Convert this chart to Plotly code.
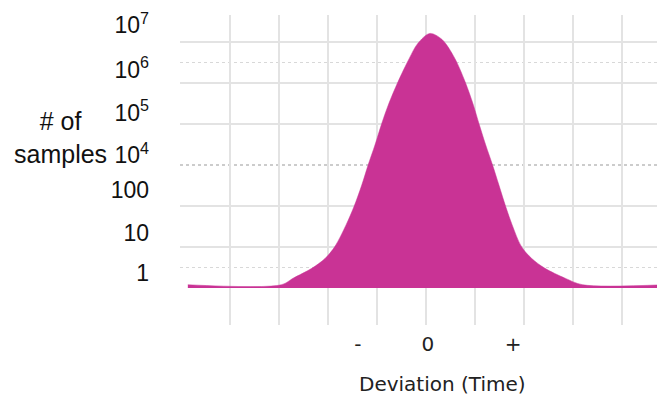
import plotly.graph_objects as go

# Curve outline: deviation (grid units) vs. stylised log level (grid units above baseline)
deviation = [-4.86, -2.95, -2.71, -2.33, -2.06, -1.86, -1.63, -1.47, -1.31, -1.18, -1.04, -0.90,
             -0.77, -0.57, -0.34, -0.17, 0.08, 0.33, 0.59, 0.80, 0.97, 1.08, 1.22,
             1.36, 1.49, 1.63, 1.76, 1.95, 2.16, 2.43, 2.84, 3.20, 4.84]
level = [0.08, 0.08, 0.24, 0.48, 0.72, 1.01, 1.54, 1.98, 2.51, 3.0, 3.49, 4.02,
         4.46, 5.03, 5.60, 5.96, 6.21, 6.06, 5.60, 5.03, 4.46, 4.02, 3.49,
         3.0, 2.51, 1.98, 1.54, 1.01, 0.72, 0.48, 0.24, 0.08, 0.08]

y_tick_pos = [6.41, 5.32, 4.27, 3.24, 2.39, 1.34, 0.37]
y_tick_text = ["10<sup>7</sup>", "10<sup>6</sup>", "10<sup>5</sup>", "10<sup>4</sup>", "100", "10", "1"]
x_tick_pos = [-1.39, 0.04, 1.78]
x_tick_text = ["-", "0", "+"]
y_grid_solid = [1, 2, 4, 5, 6]
y_grid_light_dotted = [0.5, 5.5]

MAGENTA = "#C93395"
GRID = "#e3e3e3"

fig = go.Figure()
fig.add_trace(go.Scatter(
    x=deviation, y=level, mode="lines", fill="tozeroy",
    line=dict(color=MAGENTA, width=0.5, shape="spline", smoothing=0.9),
    fillcolor=MAGENTA, hoverinfo="skip", showlegend=False,
))

shapes = []
# dark dotted centre lines
shapes.append(dict(type="line", xref="x", yref="paper", x0=0, x1=0, y0=0, y1=1,
                   line=dict(color="#9a9a9a", width=1.2, dash="dot"), layer="below"))
shapes.append(dict(type="line", xref="paper", yref="y", x0=0, x1=1, y0=3, y1=3,
                   line=dict(color="#9a9a9a", width=1.2, dash="dot"), layer="below"))
for yv in y_grid_light_dotted:
    shapes.append(dict(type="line", xref="paper", yref="y", x0=0, x1=1, y0=yv, y1=yv,
                       line=dict(color="#d8d8d8", width=1.2, dash="dot"), layer="below"))

fig.update_layout(
    width=657, height=387,
    margin=dict(l=172, r=0, t=7, b=70),
    paper_bgcolor="white", plot_bgcolor="white",
    shapes=shapes,
    xaxis=dict(
        range=[-5.02, 4.88], showgrid=False, zeroline=False, showline=False,
        tickmode="array", tickvals=x_tick_pos, ticktext=x_tick_text, ticks="",
        tickfont=dict(family="DejaVu Sans", size=20, color="#222"),
        ticklabelstandoff=5,
        minor=dict(tickmode="linear", tick0=0, dtick=1, showgrid=True,
                   gridcolor=GRID, gridwidth=1.5, ticks=""),
        fixedrange=True,
    ),
    yaxis=dict(
        range=[-0.902, 6.659], showgrid=False, zeroline=False, showline=False,
        tickmode="array", tickvals=y_tick_pos, ticktext=y_tick_text, ticks="",
        tickfont=dict(family="Liberation Sans", size=23, color="#111"),
        ticklabelstandoff=30,
        minor=dict(tickmode="array", tickvals=y_grid_solid, showgrid=True,
                   gridcolor=GRID, gridwidth=1.5, ticks=""),
        fixedrange=True,
    ),
    annotations=[
        dict(text="# of<br>samples", xref="paper", yref="paper", x=(60 - 180) / 485,
             y=(325 - 137) / 310, showarrow=False, xanchor="center", yanchor="middle",
             align="center", font=dict(family="Liberation Sans", size=25, color="#111")),
        dict(text="Deviation (Time)", xref="paper", yref="paper", x=(442 - 180) / 485,
             y=(325 - 384) / 310, showarrow=False, xanchor="center", yanchor="middle",
             font=dict(family="DejaVu Sans", size=20, color="#222")),
    ],
)

fig.write_html("out.html")
